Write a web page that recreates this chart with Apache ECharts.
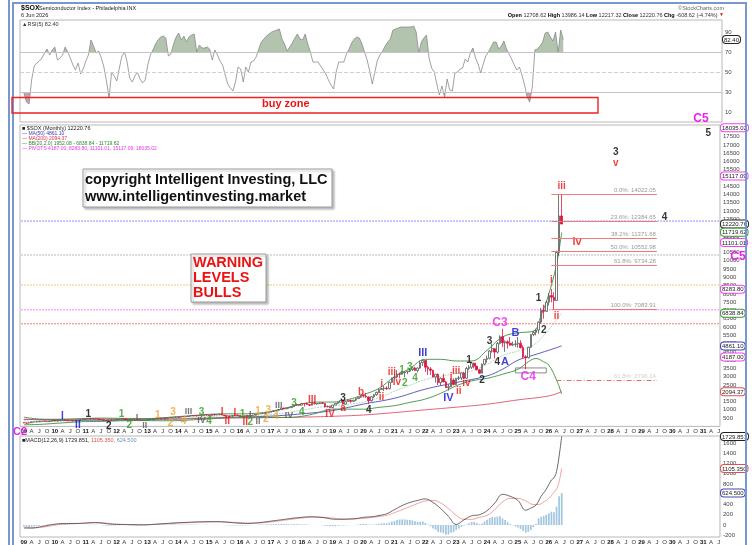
<!DOCTYPE html>
<html>
<head>
<meta charset="utf-8">
<title>$SOX Semiconductor Index - monthly</title>
<script src="https://cdn.jsdelivr.net/npm/echarts@6/dist/echarts.min.js"></script>
<style>
  html, body { margin: 0; padding: 0; background: #fff; }
  #chart { width: 752px; height: 545px; }
</style>
</head>
<body>
<div id="chart"></div>
<script>
// month offsets below count from Jan 2009 (= 0); bars run Jan 2009 .. Jun 2026
const opens = [
  229, 209, 195, 226, 270, 275, 278, 310, 316, 311, 293, 313,
  364, 331, 345, 379, 398, 362, 339, 357, 323, 360, 381, 388,
  412, 441, 465, 446, 460, 445, 419, 407, 366, 345, 393, 384,
  389, 420, 435, 447, 428, 398, 400, 386, 405, 399, 382, 385,
  388, 414, 423, 442, 451, 494, 482, 505, 492, 521, 545, 553,
  562, 548, 595, 600, 597, 621, 657, 627, 660, 640, 652, 695,
  686, 646, 716, 690, 708, 736, 685, 636, 627, 612, 662, 689,
  658, 590, 597, 651, 614, 670, 680, 732, 767, 787, 788, 813,
  849, 900, 945, 980, 1008, 1095, 1062, 1120, 1132, 1190, 1301, 1307,
  1286, 1378, 1375, 1316, 1278, 1400, 1363, 1376, 1423, 1382, 1185, 1202,
  1142, 1290, 1392, 1452, 1567, 1350, 1497, 1575, 1511, 1583, 1680, 1764,
  1866, 1829, 1781, 1553, 1792, 1910, 2052, 2222, 2290, 2315, 2278, 2657,
  2928, 2974, 3160, 3149, 3236, 3287, 3336, 3431, 3530, 3377, 3524, 3850,
  3982, 3571, 3470, 3391, 2987, 3148, 2640, 2903, 2687, 2341, 2394, 2797,
  2531, 2901, 2928, 3226, 2911, 3500, 3571, 3820, 3640, 3418, 3212, 3761,
  4048, 4112, 4552, 4690, 4487, 5015, 5415, 5050, 5110, 5020, 4910, 4950,
  4985, 5020, 4760, 4200, 4150, 4780, 5550, 5680, 5820, 6300, 7010, 6950,
  7500, 7900, 7800, 7600, 10500, 12708.62
];
const closes = [
  209, 195, 226, 270, 275, 278, 310, 316, 311, 293, 313, 364,
  331, 345, 379, 398, 362, 339, 357, 323, 360, 381, 388, 412,
  441, 465, 446, 460, 445, 419, 407, 366, 345, 393, 384, 389,
  420, 435, 447, 428, 398, 400, 386, 405, 399, 382, 385, 388,
  414, 423, 442, 451, 494, 482, 505, 492, 521, 545, 553, 562,
  548, 595, 600, 597, 621, 657, 627, 660, 640, 652, 695, 686,
  646, 716, 690, 708, 736, 685, 636, 627, 612, 662, 689, 658,
  590, 597, 651, 614, 670, 680, 732, 767, 787, 788, 813, 849,
  900, 945, 980, 1008, 1095, 1062, 1120, 1132, 1190, 1301, 1307, 1286,
  1378, 1375, 1316, 1278, 1400, 1363, 1376, 1423, 1382, 1185, 1202, 1142,
  1290, 1392, 1452, 1567, 1350, 1497, 1575, 1511, 1583, 1680, 1764, 1866,
  1829, 1781, 1553, 1792, 1910, 2052, 2222, 2290, 2315, 2278, 2657, 2928,
  2974, 3160, 3149, 3236, 3287, 3336, 3431, 3530, 3377, 3524, 3850, 3982,
  3571, 3470, 3391, 2987, 3148, 2640, 2903, 2687, 2341, 2394, 2797, 2531,
  2901, 2928, 3226, 2911, 3500, 3571, 3820, 3640, 3418, 3212, 3761, 4048,
  4112, 4552, 4690, 4487, 5015, 5415, 5050, 5110, 5020, 4910, 4950, 4985,
  5020, 4760, 4200, 4150, 4780, 5550, 5680, 5820, 6300, 7010, 6950, 7500,
  7900, 7800, 7600, 10500, 12708, 12220.76
];
const highs = [
  240, 225, 240, 280, 295, 300, 315, 330, 330, 320, 320, 368,
  375, 352, 385, 420, 402, 380, 365, 362, 362, 386, 400, 415,
  450, 470, 468, 470, 470, 448, 435, 408, 382, 400, 400, 395,
  425, 445, 455, 452, 432, 408, 400, 415, 425, 405, 395, 398,
  420, 440, 445, 455, 500, 510, 510, 508, 525, 548, 560, 565,
  575, 598, 610, 610, 625, 665, 668, 665, 675, 660, 700, 705,
  688, 720, 725, 722, 750, 745, 690, 660, 640, 665, 700, 695,
  660, 605, 655, 662, 672, 700, 735, 770, 790, 800, 825, 855,
  915, 950, 985, 1030, 1120, 1140, 1125, 1150, 1195, 1310, 1370, 1320,
  1420, 1400, 1450, 1340, 1420, 1440, 1400, 1450, 1445, 1390, 1250, 1235,
  1300, 1400, 1480, 1580, 1570, 1510, 1620, 1600, 1600, 1700, 1770, 1875,
  1930, 2030, 1800, 1820, 1960, 2100, 2270, 2330, 2440, 2420, 2700, 2950,
  3200, 3400, 3250, 3360, 3330, 3350, 3480, 3570, 3600, 3560, 3960, 4040,
  4000, 3650, 3590, 3420, 3170, 3200, 2960, 3180, 2750, 2540, 2900, 2900,
  2930, 3050, 3250, 3300, 3600, 3700, 3900, 3850, 3650, 3450, 3790, 4060,
  4280, 4600, 5000, 4700, 5100, 5500, 5900, 5200, 5200, 5400, 5120, 5210,
  5400, 5200, 4900, 4300, 4820, 5580, 5780, 5900, 6320, 7150, 7350, 7600,
  8050, 8300, 8100, 10600, 14022.05, 13986.14
];
const lows = [
  195, 185, 180, 220, 255, 265, 265, 300, 295, 285, 285, 305,
  325, 318, 342, 375, 335, 335, 330, 318, 318, 355, 370, 385,
  410, 440, 415, 440, 435, 410, 400, 330, 335, 330, 365, 375,
  385, 418, 430, 420, 390, 382, 372, 380, 395, 378, 362, 372,
  388, 405, 420, 415, 448, 465, 478, 488, 490, 515, 530, 540,
  535, 538, 578, 565, 590, 618, 620, 615, 625, 575, 645, 660,
  630, 640, 668, 680, 698, 680, 620, 545, 580, 595, 655, 645,
  570, 550, 590, 605, 600, 640, 660, 720, 750, 760, 760, 805,
  845, 895, 940, 965, 1000, 1030, 1050, 1080, 1110, 1180, 1260, 1240,
  1270, 1200, 1290, 1225, 1270, 1330, 1320, 1345, 1360, 1135, 1150, 1100,
  1100, 1280, 1350, 1440, 1320, 1330, 1490, 1430, 1470, 1520, 1670, 1720,
  1740, 1720, 1340, 1500, 1720, 1850, 2000, 2200, 2140, 2200, 2230, 2630,
  2850, 2900, 2900, 3110, 2960, 3150, 3280, 3350, 3340, 3250, 3480, 3650,
  3300, 3100, 3100, 2960, 2650, 2500, 2450, 2670, 2330, 2160, 2380, 2480,
  2500, 2800, 2800, 2860, 2880, 3400, 3470, 3500, 3380, 3160, 3200, 3700,
  3850, 4050, 4450, 4100, 4400, 4950, 4800, 4500, 4700, 4860, 4850, 4800,
  4750, 4700, 4100, 3450, 4100, 4750, 5450, 5500, 5600, 6200, 6500, 6900,
  7300, 7500, 7084, 7600, 10300, 12217.32
];

// smooth overlays read every few months: [monthOffset, value]
const ma50 = [[0,430],[12,380],[24,370],[36,380],[48,400],[60,440],[72,500],[84,560],[96,620],[108,760],
  [120,960],[132,1350],[144,1700],[156,2250],[168,2650],[180,3050],[186,3450],[192,4000],[198,4300],[204,4600],[209,4861.10]];
const ma200 = [[0,420],[12,430],[24,440],[36,450],[48,460],[60,470],[72,490],[84,510],[96,530],[108,560],
  [120,610],[132,690],[144,835],[156,1000],[168,1160],[180,1340],[192,1600],[204,1840],[209,2094.37]];
const bbUpper = [[0,560],[6,440],[12,420],[18,440],[24,480],[30,500],[36,490],[42,470],[48,470],[54,520],
  [60,590],[66,660],[72,730],[78,760],[84,760],[90,790],[96,900],[102,1120],[108,1350],[114,1470],
  [120,1470],[126,1620],[132,1920],[138,2300],[144,3000],[150,3500],[156,4050],[162,4050],[168,3950],
  [174,3950],[180,4600],[186,5400],[192,5650],[198,5750],[201,6700],[204,8000],[207,9800],[209,11719.62]];
const bbMiddle = [[0,330],[6,280],[12,300],[18,340],[24,380],[30,400],[36,410],[42,410],[48,410],[54,430],
  [60,470],[66,530],[72,590],[78,640],[84,660],[90,670],[96,720],[102,830],[108,980],[114,1140],
  [120,1260],[126,1330],[132,1480],[138,1730],[144,2125],[150,2475],[156,2830],[162,3025],[168,3200],
  [174,3350],[180,3750],[186,4275],[192,4550],[198,4900],[204,5850],[209,6838.84]];
const bbLower = [[0,100],[6,120],[12,180],[18,240],[24,290],[30,300],[36,330],[42,350],[48,350],[54,340],
  [60,350],[66,400],[72,450],[78,520],[84,560],[90,550],[96,540],[102,540],[108,610],[114,810],
  [120,1050],[126,1040],[132,1040],[138,1150],[144,1250],[150,1450],[156,1650],[162,2000],[168,2450],
  [174,2750],[180,2900],[186,3150],[192,3450],[196,3900],[199,4100],[202,3900],[204,3700],[207,2800],[209,1952.08]];

const rsi = [
  29, 20, 18, 42, 56, 59, 61, 64, 69, 73, 67, 72,
  75, 62, 64, 67, 75, 70, 64, 57, 52, 59, 48, 53,
  61, 67, 82, 76, 69, 71, 64, 55, 41, 24, 50, 46,
  41, 54, 66, 70, 60, 44, 40, 46, 50, 43, 39, 42,
  57, 67, 72, 78, 82, 85, 86, 84, 66, 68, 78, 85,
  89, 82, 86, 80, 85, 87, 88, 70, 77, 74, 74, 75,
  73, 62, 72, 67, 61, 57, 47, 38, 34, 31, 40, 55,
  53, 40, 55, 50, 60, 61, 65, 73, 80, 83, 86, 88,
  90, 91, 92, 93, 83, 78, 71, 75, 79, 84, 88, 83,
  82, 88, 78, 70, 60, 60, 60, 56, 52, 48, 42, 37,
  33, 50, 60, 60, 60, 68, 73, 79, 83, 85, 84, 78,
  70, 62, 51, 38, 50, 62, 67, 71, 76, 80, 83, 92,
  93, 94, 95, 95, 95, 95, 95, 96, 90, 69, 80, 84,
  87, 64, 54, 50, 38, 27, 36, 25, 43, 32, 31, 49,
  50, 53, 54, 63, 60, 69, 74, 64, 58, 49, 58, 66,
  70, 75, 80, 80, 73, 76, 81, 73, 68, 63, 57, 52,
  55, 47, 37, 25, 20, 35, 72, 73, 76, 80, 89, 90,
  85, 81, 90, 69, 92, 82.4
];

const macdLine = [[0,-60],[3,-60],[6,-40],[9,-10],[12,15],[15,30],[18,30],[21,30],[24,40],[27,48],[30,40],[33,20],
  [36,10],[39,8],[42,5],[45,3],[48,5],[51,15],[54,25],[57,35],[60,45],[63,50],[66,58],[69,62],[72,65],[75,65],
  [78,58],[81,45],[84,35],[87,30],[90,40],[93,55],[96,75],[99,95],[102,115],[105,135],[108,150],[111,160],
  [114,155],[117,140],[120,115],[123,110],[126,115],[129,125],[132,150],[135,160],[138,185],[141,220],[144,300],
  [147,380],[150,440],[153,480],[156,510],[159,440],[162,320],[165,170],[168,10],[171,100],[174,180],[177,200],
  [180,280],[183,430],[186,600],[189,560],[192,480],[195,290],[197,330],[199,390],[201,560],[203,700],[205,880],
  [206,920],[207,1050],[208,1350],[209,1729.851]];
const macdSignal = [[0,-40],[3,-55],[6,-50],[9,-30],[12,-5],[15,15],[18,25],[21,28],[24,32],[27,40],[30,42],[33,32],
  [36,20],[39,12],[42,8],[45,5],[48,4],[51,10],[54,18],[57,27],[60,37],[63,44],[66,50],[69,56],[72,60],[75,63],
  [78,62],[81,53],[84,45],[87,38],[90,37],[93,45],[96,60],[99,78],[102,98],[105,118],[108,135],[111,150],
  [114,155],[117,148],[120,135],[123,120],[126,117],[129,120],[132,130],[135,145],[138,165],[141,190],[144,240],
  [147,300],[150,360],[153,420],[156,470],[159,480],[162,430],[165,320],[168,190],[171,110],[174,110],[177,150],
  [180,190],[183,300],[186,450],[189,520],[192,520],[195,470],[198,400],[200,400],[202,450],[204,520],[206,640],
  [207,700],[208,850],[209,1105.350]];
const macdHist = [
  -30, -35, -38, -35, -30, -22, -15, -8, -2, 3, 8, 12,
  15, 18, 20, 20, 18, 14, 10, 6, 3, 2, 1, 2,
  4, 6, 8, 8, 6, 3, -2, -8, -12, -13, -12, -10,
  -7, -4, -2, -1, -3, -5, -7, -8, -8, -9, -9, -8,
  -5, -2, 1, 3, 6, 8, 9, 10, 11, 12, 12, 11,
  9, 10, 10, 9, 9, 10, 8, 8, 6, 5, 6, 5,
  2, 3, 2, 2, 3, 0, -4, -8, -11, -11, -9, -9,
  -12, -13, -10, -9, -5, -2, 3, 7, 10, 11, 12, 13,
  15, 17, 18, 18, 20, 18, 17, 15, 15, 18, 17, 14,
  14, 12, 7, 2, 2, -1, -3, -3, -5, -14, -20, -27,
  -26, -22, -16, -8, -10, -8, -4, -3, 0, 5, 11, 19,
  22, 20, 8, 6, 8, 15, 25, 32, 35, 32, 45, 65,
  80, 95, 105, 110, 108, 102, 96, 90, 72, 60, 62, 70,
  40, 10, -25, -70, -95, -135, -145, -160, -190, -185, -150, -140,
  -100, -70, -35, -15, 10, 35, 60, 60, 40, 15, 30, 70,
  100, 135, 155, 150, 165, 170, 130, 95, 55, 20, -5, -30,
  -50, -80, -120, -150, -135, -100, -40, 20, 130, 160, 180, 200,
  230, 260, 250, 360, 560, 624.5
];

// horizontal guide levels and fib retracement of wave iii
const guideLevels = [[12400, '#6262ff'], [10350, '#a0a0a0'], [8540, '#f5ad55'], [7040, '#ff5cff'], [6200, '#ff4f4f']];
const fibLevels = [[14022.05, '0.0%: 14022.05'], [12384.65, '23.6%: 12384.65'], [11371.68, '38.2%: 11371.68'],
  [10552.98, '50.0%: 10552.98'], [9734.28, '61.8%: 9734.28'], [7083.91, '100.0%: 7083.91']];

// axis tick labels and value boxes on the right edge
const rsiTicks = [10, 30, 50, 70, 90];
const priceTicks = [];
for (let v = 500; v <= 17500; v += 500) priceTicks.push(v);
const macdTicks = [-200, 0, 200, 400, 600, 800, 1000, 1200, 1400, 1600];
const priceBoxes = [[18035.02, 'mg'], [15117.09, 'mg'], [12220.76, 'bk'], [11719.62, 'gr'], [11101.01, 'mg'],
  [8283.80, 'mg'], [6838.84, 'gr'], [4861.10, 'bl'], [4187.00, 'mg'], [2094.37, 'rd'], [1952.08, 'gr']];
const macdBoxes = [[1729.851, 'bk'], [1105.350, 'rd'], [624.500, 'bl']];

// Elliott wave labels: [monthOffset, price, text, colour, size]
const waveLabels = [
  [14.7, 628, 'I', '#1010d0', 10], [20.5, 85, 'II', '#1010d0', 10], [25, 749, '1', '#000', 10], [32.5, 30, '2', '#000', 10],
  [38, 749, '1', '#2f9a1f', 10], [41.4, 85, '2', '#2f9a1f', 10], [43.7, 507, 'I', '#555', 9], [47.2, 40, 'II', '#555', 9],
  [52.3, 688, '1', '#f0a030', 10], [57.7, 870, '3', '#f0a030', 10], [56.9, 205, '2', '#f0a030', 10], [61.9, 326, '4', '#f0a030', 10],
  [63.5, 870, 'III', '#555', 9], [69.3, 870, '3', '#2f9a1f', 10], [68.5, 326, 'IV', '#555', 9], [72.4, 326, '4', '#2f9a1f', 10],
  [76.7, 870, 'I', '#ee1111', 10], [79, 326, 'II', '#ee1111', 10], [81.7, 809, 'I', '#ee1111', 10], [84.8, 749, '1', '#2f9a1f', 10],
  [85.6, 266, 'II', '#ee1111', 10], [88.3, 266, '2', '#2f9a1f', 10], [87.9, 688, 'I', '#555', 9], [91, 266, 'II', '#555', 9],
  [91, 930, '1', '#f0a030', 10], [93.7, 447, '2', '#f0a030', 10], [94.9, 990, '3', '#f0a030', 10], [97.9, 628, '4', '#f0a030', 10],
  [98.7, 1232, 'III', '#555', 9], [102.6, 628, 'IV', '#555', 9], [105.3, 1413, '3', '#2f9a1f', 10], [108, 870, '4', '#2f9a1f', 10],
  [111.5, 1594, 'III', '#ee1111', 10], [118.9, 749, 'IV', '#ee1111', 10],
  [123.5, 1715, '3', '#000', 10], [124.3, 1110, 'a', '#ee1111', 10], [131.2, 2080, 'b', '#ee1111', 10], [134.3, 990, '4', '#000', 10],
  [139, 2560, 'i', '#ee1111', 10], [139.4, 1775, 'ii', '#ee1111', 10], [143.2, 3285, 'iii', '#ee1111', 10], [145.2, 2680, 'iv', '#ee1111', 10],
  [146.7, 3400, '1', '#2f9a1f', 10], [148.3, 2620, '2', '#2f9a1f', 10], [149.8, 3590, '3', '#2f9a1f', 10], [152.1, 2920, '4', '#2f9a1f', 10],
  [155, 4430, 'III', '#1010d0', 11], [164.5, 1715, 'IV', '#1010d0', 11],
  [165.7, 2980, 'i', '#ee1111', 10], [168, 3345, 'iii', '#ee1111', 10], [169.2, 2140, 'ii', '#ee1111', 10], [172.3, 2620, 'iv', '#ee1111', 10],
  [173, 4010, '1', '#000', 10], [178, 2800, '2', '#000', 10], [181.2, 5160, '3', '#000', 10], [183.5, 3890, '4', '#000', 10],
  [184.7, 6240, 'C3', '#ee22ee', 12], [186.6, 3890, 'A', '#1010d0', 11], [191.3, 5640, 'B', '#1010d0', 11], [195.5, 2980, 'C4', '#ee22ee', 12],
  [200.2, 7750, '1', '#000', 10], [202, 5820, '2', '#000', 10], [204.8, 8840, 'i', '#ee1111', 10], [206.7, 6670, 'ii', '#ee1111', 10],
  [209, 14520, 'iii', '#ee1111', 10], [214.5, 11130, 'iv', '#ee1111', 11], [230, 16570, '3', '#000', 10], [230, 15900, 'v', '#ee1111', 10],
  [249, 12650, '4', '#000', 10], [266.4, 17717, '5', '#000', 10]
];

// categories: Dec 2008 .. Jul 2031, one per month
const months = [];
for (let i = 0; i < 272; i++) {
  const t = 2008 * 12 + 11 + i;
  months.push(Math.floor(t / 12) + '-' + String(t % 12 + 1).padStart(2, '0'));
}

const FONT = 'Liberation Sans, Arial, sans-serif';
const at = m => Math.round(m + 1);
const pairs = list => list.map(([m, v]) => [at(m), v]);
const pad = list => ['-'].concat(list);

const boxColors = {mg: '#ee44ee', bk: '#222222', gr: '#3d9a3d', bl: '#4444bb', rd: '#e05050'};
const boxRich = {};
Object.keys(boxColors).forEach(k => {
  boxRich[k] = {fontSize: 6, color: '#222', fontFamily: FONT, borderColor: boxColors[k], borderWidth: 1,
    borderRadius: 3, padding: [1, 1, 0, 1], backgroundColor: '#fff'};
});
function boxFormatter(boxes, digits) {
  return v => {
    const b = boxes.find(x => Math.abs(x[0] - v) < 0.001);
    return b ? '{' + b[1] + '|' + v.toFixed(digits) + '}' : '';
  };
}

function monthAxis(gridIndex, showLabels) {
  return {
    type: 'category', gridIndex, data: months, boundaryGap: true,
    axisLine: {show: false}, axisTick: {show: false}, splitLine: {show: false},
    axisLabel: {
      show: showLabels, fontSize: 6, color: '#333', fontFamily: FONT, margin: 2,
      interval: (i, v) => ['01', '04', '07', '10'].includes(v.slice(5)),
      formatter: v => {
        const mo = v.slice(5);
        return mo === '01' ? '{y|' + v.slice(2, 4) + '}' : {'04': 'A', '07': 'J', '10': 'O'}[mo];
      },
      rich: {y: {fontWeight: 'bold', fontSize: 6, color: '#111', fontFamily: FONT}}
    }
  };
}
function valueAxis(gridIndex, min, max, ticks) {
  return {
    type: 'value', gridIndex, min, max, position: 'right',
    axisLine: {show: false}, axisTick: {show: false}, splitLine: {show: false},
    axisLabel: {customValues: ticks, formatter: v => String(v), fontSize: 6, color: '#444', fontFamily: FONT, margin: 3}
  };
}
function boxAxis(gridIndex, min, max, boxes, digits) {
  return {
    type: 'value', gridIndex, min, max, position: 'right',
    axisLine: {show: false}, axisTick: {show: false}, splitLine: {show: false},
    axisLabel: {customValues: boxes.map(b => b[0]), margin: 1, formatter: boxFormatter(boxes, digits), rich: boxRich}
  };
}

function text(x, y, str, font, fill, align) {
  return {type: 'text', x, y, z: 100, style: {text: str, font: font + ' ' + FONT, fill: fill || '#000',
    align: align || 'left', verticalAlign: 'middle'}};
}

// each dotted guide level is a flat two-point line across the whole price panel
const guideSeries = guideLevels.map(([v, c]) => ({
  type: 'line', xAxisIndex: 1, yAxisIndex: 2, data: [[0, v], [months.length - 1, v]], symbol: 'none', silent: true, z: 2,
  lineStyle: {color: c, type: [1.5, 1.5], width: 1}
}));

const chart = echarts.init(document.getElementById('chart'));
chart.setOption({
  animation: false,
  backgroundColor: '#fff',
  grid: [
    {left: 20, right: 30, top: 20, height: 102, show: true, borderColor: '#b8b8b8', borderWidth: 1},
    {left: 20, right: 30, top: 125, height: 301.4, show: true, borderColor: '#b8b8b8', borderWidth: 1},
    {left: 20, right: 30, top: 436, height: 102, show: true, borderColor: '#b8b8b8', borderWidth: 1}
  ],
  xAxis: [monthAxis(0, false), monthAxis(1, true), monthAxis(2, true)],
  yAxis: [
    valueAxis(0, 0, 102, rsiTicks),
    boxAxis(0, 0, 102, [[82.4, 'bk']], 2),
    valueAxis(1, 0, 18200, priceTicks),
    boxAxis(1, 0, 18200, priceBoxes, 2),
    valueAxis(2, -235, 1740, macdTicks),
    boxAxis(2, -235, 1740, macdBoxes, 3)
  ],
  visualMap: {
    show: false, seriesIndex: 0, dimension: 1,
    pieces: [{gt: 70, color: '#b2c3ae'}, {gte: 30, lte: 70, color: 'rgba(255,255,255,0)'}, {lt: 30, color: '#c9a3a6'}]
  },
  series: [
    {
      type: 'line', xAxisIndex: 0, yAxisIndex: 0, data: pad(rsi), symbol: 'none', silent: true,
      lineStyle: {width: 0}, areaStyle: {origin: 70, opacity: 1}
    },
    {
      type: 'line', xAxisIndex: 0, yAxisIndex: 0, data: pad(rsi), symbol: 'none', silent: true,
      lineStyle: {width: 0.8, color: '#8a8a8a'}, z: 3,
      markLine: {
        symbol: 'none', silent: true, label: {show: false},
        lineStyle: {color: '#c4c4c4', type: 'solid', width: 1},
        data: [{yAxis: 70}, {yAxis: 30}, {yAxis: 50, lineStyle: {type: 'dashed', color: '#d0d0d0'}}]
      }
    },
    {
      type: 'candlestick', xAxisIndex: 1, yAxisIndex: 2, barWidth: 2.1, z: 4,
      data: pad(closes.map((c, i) => [opens[i], c, lows[i], highs[i]])),
      itemStyle: {color: '#ffffff', color0: '#dd1440', borderColor: '#555555', borderColor0: '#dd1440', borderWidth: 0.8},
      markLine: {
        symbol: 'none', silent: true,
        lineStyle: {color: '#f07a7a', type: 'solid', width: 1},
        label: {show: true, position: 'insideEndTop', distance: 1, fontSize: 6, color: '#999', fontFamily: FONT},
        data: fibLevels.map(([v, t]) => [
          {coord: [at(205.2), v], label: {formatter: t}},
          {coord: [at(245.5), v]}
        ]).concat([[
          {coord: [at(207), 2796.14], lineStyle: {color: '#e86a6a', type: [5, 2, 1, 2], width: 1},
            label: {formatter: '61.8%: 2796.14', color: '#cfcfcf'}},
          {coord: [at(245.5), 2796.14]}
        ]])
      },
      markArea: {
        silent: true,
        itemStyle: {color: '#ffffff', borderColor: '#8a8a8a', borderWidth: 1},
        data: [[{coord: [at(191.3), 3530]}, {coord: [at(203.3), 3230]}]]
      }
    },
    {type: 'line', xAxisIndex: 1, yAxisIndex: 2, data: pairs(ma50), smooth: 0.4, symbol: 'none', silent: true, lineStyle: {width: 0.9, color: '#4b4bb8'}, z: 3},
    {type: 'line', xAxisIndex: 1, yAxisIndex: 2, data: pairs(ma200), smooth: 0.4, symbol: 'none', silent: true, lineStyle: {width: 0.9, color: '#e0506a'}, z: 3},
    {type: 'line', xAxisIndex: 1, yAxisIndex: 2, data: pairs(bbUpper), smooth: 0.4, symbol: 'none', silent: true, lineStyle: {width: 0.9, color: '#3f8f3f'}, z: 3},
    {type: 'line', xAxisIndex: 1, yAxisIndex: 2, data: pairs(bbMiddle), smooth: 0.4, symbol: 'none', silent: true, lineStyle: {width: 0.7, color: '#8cc88c', type: [2, 1]}, z: 3},
    {type: 'line', xAxisIndex: 1, yAxisIndex: 2, data: pairs(bbLower), smooth: 0.4, symbol: 'none', silent: true, lineStyle: {width: 0.9, color: '#3f8f3f'}, z: 3},
    {
      type: 'scatter', xAxisIndex: 1, yAxisIndex: 2, symbolSize: 1, silent: true, z: 10,
      itemStyle: {color: 'rgba(0,0,0,0)'},
      label: {show: true, position: 'inside', fontFamily: FONT, fontWeight: 'bold'},
      data: waveLabels.map(([m, p, t, c, s]) => ({value: [at(m), p], label: {formatter: t, color: c, fontSize: s}}))
    },
    {type: 'bar', xAxisIndex: 2, yAxisIndex: 4, data: pad(macdHist), barWidth: 1.7, silent: true, itemStyle: {color: '#a3c6e0'}},
    {type: 'line', xAxisIndex: 2, yAxisIndex: 4, data: pairs(macdSignal), smooth: 0.4, symbol: 'none', silent: true, lineStyle: {width: 0.8, color: '#f08a8a'}},
    {type: 'line', xAxisIndex: 2, yAxisIndex: 4, data: pairs(macdLine), smooth: 0.4, symbol: 'none', silent: true, lineStyle: {width: 0.8, color: '#444'}}
  ].concat(guideSeries),
  graphic: [
    {type: 'rect', z: 90, shape: {x: 13, y: 3, width: 733, height: 570}, style: {fill: 'none', stroke: '#7896cf', lineWidth: 2}},
    {type: 'line', z: 90, shape: {x1: 9, y1: 0, x2: 9, y2: 545}, style: {stroke: '#7896cf', lineWidth: 2}},
    text(21, 8, '$SOX', 'bold 7px', '#000'),
    text(39, 8, 'Semiconductor Index - Philadelphia INX', '5.5px', '#222'),
    text(21, 15, '6 Jun 2026', '5.5px', '#222'),
    text(724, 8, '\u00a9StockCharts.com', '5.5px', '#666', 'right'),
    {type: 'text', x: 724, y: 15, z: 100, style: {
      text: '{b|Open} 12708.62 {b|High} 13986.14 {b|Low} 12217.32 {b|Close} 12220.76 {b|Chg} -608.62 (-4.74%) {r|\u25bc}',
      font: '5.5px ' + FONT, fill: '#333', align: 'right', verticalAlign: 'middle',
      rich: {b: {fontWeight: 'bold', fontSize: 5.5, fill: '#000'}, r: {fontSize: 5, fill: '#dd1111'}}
    }},
    text(22, 24, '\u25b2RSI(5) 82.40', '5.5px', '#333'),
    // buy zone box across the RSI panel
    {type: 'rect', z: 95, shape: {x: 12, y: 97.5, width: 586, height: 15.5}, style: {fill: 'none', stroke: '#ee2222', lineWidth: 1.4}},
    text(262, 104, 'buy zone', 'bold 11px', '#ee1111'),
    text(701, 119, 'C5', 'bold 12px', '#ee22ee', 'center'),
    text(738, 257, 'C5', 'bold 12px', '#ee22ee', 'center'),
    text(20, 432, 'C2', 'bold 11px', '#ee22ee', 'center'),
    // price panel legend
    text(22, 128.5, '\u25a0 $SOX (Monthly) 12220.76', '5.5px', '#222'),
    text(22, 133.5, '\u2014 MA(50) 4861.10', '5px', '#3b3bb0'),
    text(22, 138.5, '\u2014 MA(200) 2094.37', '5px', '#e03050'),
    text(22, 143.5, '\u2014 BB(20,2.0) 1952.08 - 6838.84 - 11719.62', '5px', '#2f8a2f'),
    text(22, 148.5, '\u2014 PIVOTS 4187.00, 8283.80, 11101.01, 15117.09, 18035.02', '5px', '#ee33ee'),
    // copyright box
    {type: 'rect', z: 99, shape: {x: 83, y: 169, width: 249, height: 38},
      style: {fill: '#fff', stroke: '#9a9a9a', lineWidth: 1, shadowBlur: 2, shadowOffsetX: 2, shadowOffsetY: 2, shadowColor: 'rgba(0,0,0,0.25)'}},
    text(85, 180, 'copyright Intelligent Investing, LLC', 'bold 14.5px', '#111'),
    text(85, 197, 'www.intelligentinvesting.market', 'bold 14.5px', '#111'),
    // warning box
    {type: 'rect', z: 99, shape: {x: 191, y: 254, width: 75, height: 48},
      style: {fill: '#fff', stroke: '#9a9a9a', lineWidth: 1, shadowBlur: 2, shadowOffsetX: 2, shadowOffsetY: 2, shadowColor: 'rgba(0,0,0,0.25)'}},
    text(193, 263, 'WARNING', 'bold 14.5px', '#ee1111'),
    text(193, 278, 'LEVELS', 'bold 14.5px', '#ee1111'),
    text(193, 293, 'BULLS', 'bold 14.5px', '#ee1111'),
    // MACD legend
    {type: 'text', x: 22, y: 440, z: 100, style: {
      text: '\u25a0MACD(12,26,9) 1729.851, {r|1105.350,} {b|624.500}', font: '5.5px ' + FONT, fill: '#222',
      verticalAlign: 'middle', rich: {r: {fill: '#e05050', fontSize: 5.5}, b: {fill: '#6a8fc0', fontSize: 5.5}}
    }}
  ]
});
</script>
</body>
</html>
